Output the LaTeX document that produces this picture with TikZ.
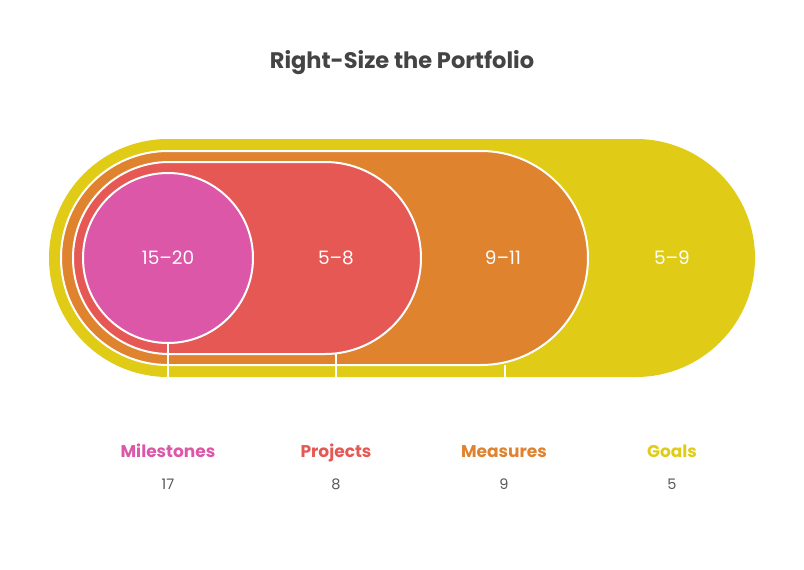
\documentclass[tikz,border=0pt]{standalone}
\usepackage{fontspec}
\setmainfont{Poppins}
\definecolor{goalcol}{HTML}{E0CC17}
\definecolor{measurecol}{HTML}{DF832F}
\definecolor{projectcol}{HTML}{E55854}
\definecolor{milestonecol}{HTML}{DC57A8}
\definecolor{titlecol}{HTML}{444444}

\begin{document}
\begin{tikzpicture}[
    x=1pt, y=-1pt,
    band/.style={draw=white, line width=2pt},
    range_text/.style={text=white, font=\fontsize{18.5}{20}\selectfont},
    name_text/.style={anchor=base, font=\bfseries\fontsize{17}{19}\selectfont},
    count_text/.style={anchor=base, text=titlecol!90, font=\fontsize{14.5}{16}\selectfont},
    tick/.style={draw=white, line width=2pt}
]
    \useasboundingbox (0,0) rectangle (804,570);
    \node[text=titlecol, font=\bfseries\fontsize{22.5}{26}\selectfont] (title) at (402,63) {Right-Size the Portfolio};

    % nested bands
    \fill[goalcol] (49,139) [rounded corners=119pt] rectangle (755,377);
    \path[band, fill=measurecol, rounded corners=107pt] (61,151) rectangle (588,365);
    \path[band, fill=projectcol, rounded corners=96pt] (73,162) rectangle (421,354);
    \path[band, fill=milestonecol] (168,258) circle (85);

    \coordinate (t1a) at (168,343);
    \coordinate (t1b) at (168,378);
    \coordinate (t2a) at (336,354);
    \coordinate (t2b) at (336,378);
    \coordinate (t3a) at (505,365);
    \coordinate (t3b) at (505,378);
    \draw[tick] (t1a) -- (t1b);
    \draw[tick] (t2a) -- (t2b);
    \draw[tick] (t3a) -- (t3b);

    \node[range_text] (r_miles) at (168,258) {15–20};
    \node[range_text] (r_proj) at (336,258) {5–8};
    \node[range_text] (r_meas) at (503,258) {9–11};
    \node[range_text] (r_goal) at (672,258) {5–9};

    \node[name_text, text=milestonecol] (miles) at (168,457) {Milestones};
    \node[name_text, text=projectcol] (proj) at (336,457) {Projects};
    \node[name_text, text=measurecol] (meas) at (504,457) {Measures};
    \node[name_text, text=goalcol] (goal) at (672,457) {Goals};

    \node[count_text] (c_miles) at (168,489) {17};
    \node[count_text] (c_proj) at (336,489) {8};
    \node[count_text] (c_meas) at (504,489) {9};
    \node[count_text] (c_goal) at (672,489) {5};
\end{tikzpicture}
\end{document}
